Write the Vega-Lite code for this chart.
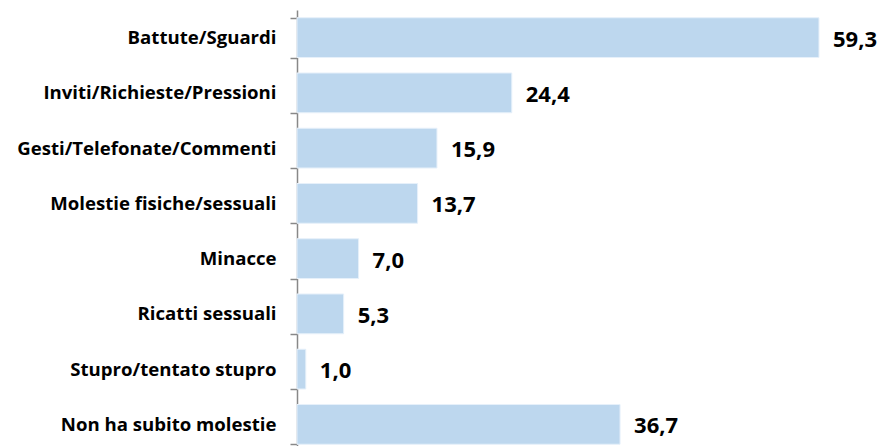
{
  "$schema": "https://vega.github.io/schema/vega-lite/v6.json",
  "width": 588,
  "height": 442,
  "autosize": {"type": "none"},
  "padding": {"left": 297, "top": 10, "right": 0, "bottom": 0},
  "background": "white",
  "config": {
    "view": {"stroke": null},
    "locale": {"number": {"decimal": ",", "thousands": ".", "grouping": [3], "currency": ["", " €"]}}
  },
  "data": {
    "values": [
      {"categoria": "Battute/Sguardi", "valore": 59.3},
      {"categoria": "Inviti/Richieste/Pressioni", "valore": 24.4},
      {"categoria": "Gesti/Telefonate/Commenti", "valore": 15.9},
      {"categoria": "Molestie fisiche/sessuali", "valore": 13.7},
      {"categoria": "Minacce", "valore": 7.0},
      {"categoria": "Ricatti sessuali", "valore": 5.3},
      {"categoria": "Stupro/tentato stupro", "valore": 1.0},
      {"categoria": "Non ha subito molestie", "valore": 36.7}
    ]
  },
  "encoding": {
    "y": {
      "field": "categoria",
      "type": "nominal",
      "sort": null,
      "scale": {"paddingInner": 0.28, "paddingOuter": 0.14},
      "axis": {
        "title": null,
        "labelFont": "Open Sans",
        "labelFontWeight": "bold",
        "labelFontSize": 18.6,
        "labelLimit": 400,
        "labelColor": "black",
        "labelPadding": 14,
        "tickBand": "extent",
        "tickSize": 7,
        "tickColor": "#888888",
        "domainColor": "#888888",
        "domainWidth": 1.5,
        "tickWidth": 1.5
      }
    },
    "x": {
      "field": "valore",
      "type": "quantitative",
      "scale": {"domain": [0, 66.8], "nice": false},
      "axis": null
    }
  },
  "layer": [
    {"mark": {"type": "bar", "color": "#BDD7EE", "stroke": "#E6F0FA", "strokeWidth": 1}},
    {
      "mark": {"type": "text", "align": "left", "baseline": "middle", "dx": 14, "dy": 2, "font": "Open Sans", "fontWeight": "bold", "fontSize": 22, "color": "black"},
      "encoding": {"text": {"field": "valore", "type": "quantitative", "format": ".1f"}}
    }
  ]
}
